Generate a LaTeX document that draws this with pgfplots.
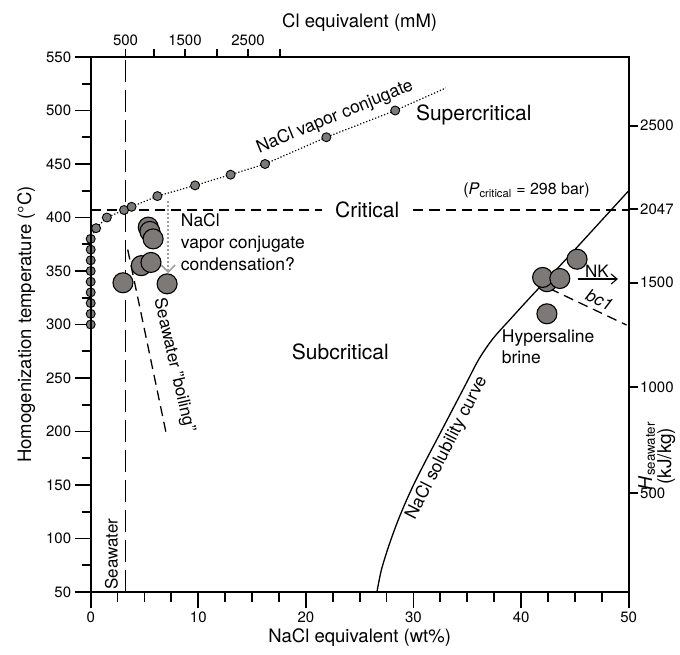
\documentclass[border=0pt]{standalone}
\usepackage{fontspec}
\setmainfont{TeX Gyre Heros}
\usepackage{pgfplots}
\pgfplotsset{compat=1.18}
\usetikzlibrary{arrows.meta}
\definecolor{dotgray}{RGB}{125,121,118}
\definecolor{arrgray}{RGB}{160,160,160}
\begin{document}
\begin{tikzpicture}
\begin{axis}[
  scale only axis, width=538pt, height=535pt,
  xmin=0, xmax=50, ymin=50, ymax=550,
  xtick pos=bottom, ytick pos=left,
  xtick={0,10,...,50}, ytick={50,100,...,550},
  minor x tick num=3, minor y tick num=1,
  tick align=outside,
  major tick length=16pt, minor tick length=9pt,
  axis line style={line width=1.8pt},
  tick style={line width=1.8pt, color=black},
  tick label style={font=\fontsize{15}{18}\selectfont},
  /pgf/number format/assume math mode=true,
  xlabel={NaCl equivalent (wt\%)},
  ylabel={Homogenization temperature (°C)},
  label style={font=\fontsize{18.5}{22}\selectfont},
  xlabel style={at={(axis description cs:0.5,-0.086)}, anchor=center},
  ylabel style={at={(axis description cs:-0.12,0.5)}, anchor=center},
  clip=false,
]
% tick marks and frame as plain plot segments
\pgfplotsinvokeforeach{0,10,20,30,40,50}{\addplot[black, line width=1.8pt] coordinates {(#1,50) (#1,35.05)};}
\pgfplotsinvokeforeach{2.5,5,7.5,12.5,15,17.5,22.5,25,27.5,32.5,35,37.5,42.5,45,47.5}{\addplot[black, line width=1.8pt] coordinates {(#1,50) (#1,40.65)};}
\pgfplotsinvokeforeach{50,100,150,200,250,300,350,400,450,500,550}{\addplot[black, line width=1.8pt] coordinates {(0,#1) (-1.487,#1)};}
\pgfplotsinvokeforeach{75,125,175,225,275,325,375,425,475,525}{\addplot[black, line width=1.8pt] coordinates {(0,#1) (-0.744,#1)};}
\pgfplotsinvokeforeach{3.24,5.88,8.76,11.71,14.62,17.59}{\addplot[black, line width=1.8pt] coordinates {(#1,550) (#1,556.54)};}
\pgfplotsinvokeforeach{142.5,241.3,339,408,485.8}{\addplot[black, line width=1.8pt] coordinates {(50,#1) (50.836,#1)};}
\addplot[black, line width=1.8pt] coordinates {(0,50) (50,50) (50,550) (0,550) (0,50)};
% seawater composition
\addplot[line width=1.5pt, dash pattern=on 22pt off 8pt] coordinates {(3.25,50) (3.25,550)};
% critical line
\addplot[line width=1.3pt, dash pattern=on 10pt off 6pt] coordinates {(0,407) (21.5,407)};
\addplot[line width=1.3pt, dash pattern=on 10pt off 6pt] coordinates {(30,407) (50,407)};
% seawater boiling
\addplot[line width=1.3pt, dash pattern=on 10pt off 6pt] coordinates {(3.44,370) (7.0,199)};
% bc1
\addplot[line width=1.3pt, dash pattern=on 10pt off 6pt] coordinates {(41.3,340) (49.8,299.5)};
% vapor conjugate
\addplot[line width=1.2pt, dotted] coordinates {(0,380) (0.5,390) (1.5,400) (3.1,407) (3.8,410) (6.2,420) (9.7,430) (13.0,440) (16.2,450) (21.9,475) (28.3,500) (33,521)};
\addplot[only marks, mark=*, mark size=4.5pt, mark options={fill=dotgray, draw=black, line width=0.9pt}] coordinates {
(0,300) (0,310) (0,320) (0,330) (0,340) (0,350) (0,360) (0,370) (0,380) (0.5,390) (1.5,400) (3.1,407) (3.8,410) (6.2,420) (9.7,430) (13.0,440) (16.2,450) (21.9,475) (28.3,500)};
% condensation arrow
\addplot[arrgray, line width=2pt, dash pattern=on 2pt off 2pt, -{Straight Barb[length=7pt,width=14pt,line width=1.6pt]}] coordinates {(7.2,415) (7.2,348)};
% fluid inclusions
\addplot[only marks, mark=*, mark size=10pt, mark options={fill=dotgray, draw=black, line width=1.1pt}] coordinates {
(3.0,339) (7.1,338) (4.7,355) (5.6,358) (5.35,391) (5.5,387) (5.8,380)
(42.4,340) (42.0,344) (43.6,343) (45.2,361) (42.4,310)};
% NaCl solubility curve
\addplot[line width=1.3pt, smooth] coordinates {(26.6,50) (27.0,70) (27.6,90) (28.3,110) (29.1,130) (30.0,150) (31.1,172) (32.3,195) (33.6,220) (34.9,245) (36.1,268) (37.4,287) (39.0,305) (41.0,327) (43.9,358) (47.0,392) (50,425)};
% NK arrow
\addplot[line width=1.1pt, -{Straight Barb[length=6pt,width=10pt]}] coordinates {(45.3,342.5) (49.0,342.5)};
% labels
\node[font=\fontsize{21}{25}\selectfont] at (axis cs:35.6,496) {Supercritical};
\node[font=\fontsize{21}{25}\selectfont] at (axis cs:25.7,407) {Critical};
\node[font=\fontsize{16}{19}\selectfont] at (axis cs:40.5,425) {(\textit{P}\textsubscript{critical} = 298 bar)};
\node[font=\fontsize{21}{25}\selectfont] at (axis cs:23.2,274.3) {Subcritical};
\node[font=\fontsize{17.5}{22}\selectfont, align=left, anchor=north west, inner sep=0pt] at (axis cs:8.37,404) {NaCl\\vapor conjugate\\condensation?};
\node[font=\fontsize{17.5}{21}\selectfont, align=left, anchor=north west, inner sep=0pt] at (axis cs:38.2,295) {Hypersaline\\brine};
\node[font=\fontsize{17.5}{21}\selectfont, rotate=22.4] at (axis cs:22.7,494) {NaCl vapor conjugate};
\node[font=\fontsize{17.5}{21}\selectfont, rotate=63] at (axis cs:33.1,184.5) {NaCl solubility curve};
\node[font=\fontsize{17}{21}\selectfont, rotate=-77] at (axis cs:7.75,262) {Seawater "boiling"};
\node[font=\fontsize{17}{21}\selectfont, rotate=90] at (axis cs:1.93,85.5) {Seawater};
\node[font=\fontsize{17}{21}\selectfont, anchor=base] at (axis cs:47.05,344) {NK};
\node[font=\fontsize{17}{21}\selectfont, rotate=-25] at (axis cs:47.3,323) {\textit{bc1}};
\node[font=\fontsize{19}{19}\selectfont, rotate=90, align=center] at (axis cs:52.6,177) {\textit{H}\textsubscript{seawater}\\(kJ/kg)};
\end{axis}
\begin{axis}[
  scale only axis, width=538pt, height=535pt,
  xmin=0, xmax=50, ymin=50, ymax=550,
  xtick pos=top, ytick pos=right,
  xticklabel pos=top, yticklabel pos=right,
  xtick={3.24,5.88,8.76,11.71,14.62,17.59},
  xticklabels={500,,1500,,2500,},
  ytick={142.5,241.3,339,408,485.8},
  yticklabels={500,1000,1500,2047,2500},
  tick align=outside, major tick length=8pt,
  axis line style={line width=1.8pt},
  tick style={line width=1.8pt, color=black},
  tick label style={font=\fontsize{15}{18}\selectfont},
  xlabel={Cl equivalent (mM)},
  label style={font=\fontsize{18.5}{22}\selectfont},
  xlabel style={at={(axis description cs:0.5,1.0645)}, anchor=center},
]
\addplot[draw=none] coordinates {(0,50) (50,550)};
\end{axis}
\pgfresetboundingbox
\path[use as bounding box] (-90.7pt,-62pt) rectangle (589.3pt,592pt);
\end{tikzpicture}
\end{document}
